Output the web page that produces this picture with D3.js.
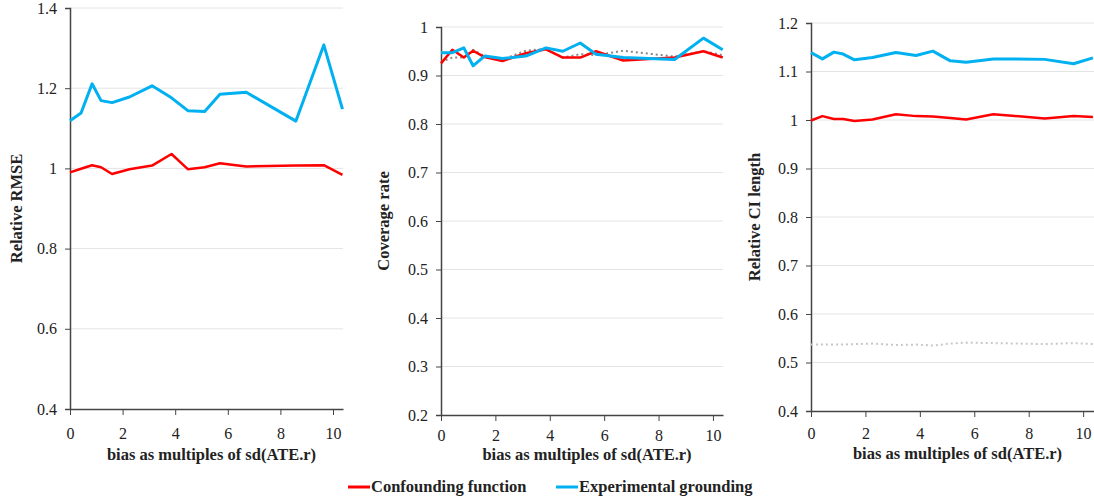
<!DOCTYPE html>
<html>
<head>
<meta charset="utf-8">
<script src="https://cdn.jsdelivr.net/npm/d3@7"></script>
<style>
  body { margin: 0; background: #fff; }
  svg text { font-family: Georgia, "Liberation Serif", "DejaVu Serif", serif; fill: #222; }
</style>
</head>
<body>
<div id="chart"></div>
<script>
var width = 1094, height = 499;

// x positions (bias as multiples of sd(ATE.r))
var bias = [0, 0.42, 0.84, 1.18, 1.6, 2.26, 3.12, 3.86, 4.48, 5.12, 5.7, 6.7, 8.59, 9.65, 10.36];

// Relative RMSE
var rmseConf = [0.99, 0.999, 1.008, 1.003, 0.986, 0.998, 1.007, 1.036, 0.998, 1.003, 1.013, 1.005, 1.007, 1.008, 0.984];
var rmseExp  = [1.119, 1.138, 1.211, 1.169, 1.164, 1.178, 1.206, 1.176, 1.144, 1.142, 1.185, 1.19, 1.118, 1.308, 1.148];

// Coverage rate
var covConf = [0.925, 0.953, 0.937, 0.951, 0.938, 0.930, 0.946, 0.954, 0.937, 0.937, 0.950, 0.931, 0.937, 0.950, 0.937];
var covExp  = [0.947, 0.947, 0.957, 0.920, 0.940, 0.935, 0.940, 0.957, 0.950, 0.967, 0.944, 0.937, 0.933, 0.977, 0.953];
var covRef  = [0.928, 0.937, 0.937, 0.953, 0.940, 0.933, 0.951, 0.955, 0.937, 0.944, 0.942, 0.951, 0.939, 0.950, 0.942];

// Relative CI length
var ciConf = [0.999, 1.008, 1.002, 1.002, 0.998, 1.001, 1.012, 1.008, 1.007, 1.004, 1.001, 1.012, 1.003, 1.008, 1.006];
var ciExp  = [1.139, 1.126, 1.140, 1.136, 1.124, 1.129, 1.139, 1.133, 1.142, 1.122, 1.119, 1.126, 1.125, 1.116, 1.128];
var ciRef  = [0.537, 0.537, 0.537, 0.537, 0.538, 0.539, 0.536, 0.537, 0.535, 0.539, 0.541, 0.540, 0.538, 0.540, 0.538];

var xTicks = [0, 2, 4, 6, 8, 10];
var xTitle = "bias as multiples of sd(ATE.r)";
var legendLabels = ["Confounding function", "Experimental grounding"];

var colRed = "#ff0000", colBlue = "#00b0f0";

var panels = [
  { title: "Relative RMSE", left: 70, right: 343, top: 8, bottom: 409, xmax: 10.38,
    yDomain: [0.4, 1.4], yTicks: [0.4, 0.6, 0.8, 1, 1.2, 1.4], titleX: 16, xTitleDy: 51, pad: 13,
    series: [{v: rmseConf, c: colRed, w: 2.5}, {v: rmseExp, c: colBlue, w: 3}] },
  { title: "Coverage rate", left: 441, right: 723, top: 27, bottom: 415, xmax: 10.37,
    yDomain: [0.2, 1], yTicks: [0.2, 0.3, 0.4, 0.5, 0.6, 0.7, 0.8, 0.9, 1], titleX: 383, xTitleDy: 45, pad: 9,
    series: [{v: covRef, c: "#888", w: 2, dash: "2,3"}, {v: covConf, c: colRed, w: 2.5}, {v: covExp, c: colBlue, w: 3}] },
  { title: "Relative CI length", left: 811, right: 1094, top: 23, bottom: 411, xmax: 10.4,
    yDomain: [0.4, 1.2], yTicks: [0.4, 0.5, 0.6, 0.7, 0.8, 0.9, 1, 1.1, 1.2], titleX: 754, xTitleDy: 48, pad: 11,
    series: [{v: ciRef, c: "#c8c8c8", w: 2, dash: "2,3"}, {v: ciConf, c: colRed, w: 2.5}, {v: ciExp, c: colBlue, w: 3}] }
];

var svg = d3.select("#chart").append("svg")
  .attr("width", width)
  .attr("height", height);

panels.forEach(function(p) {
  var x = d3.scaleLinear().domain([0, p.xmax]).range([p.left, p.right]);
  var y = d3.scaleLinear().domain(p.yDomain).range([p.bottom, p.top]);
  var g = svg.append("g");

  // gridlines
  g.selectAll("line.grid")
    .data(p.yTicks.slice(1))
    .enter().append("line")
    .attr("x1", p.left).attr("x2", p.right)
    .attr("y1", function(d) { return y(d); })
    .attr("y2", function(d) { return y(d); })
    .attr("stroke", "#e4e4e4").attr("stroke-width", 1);

  // y axis
  var ya = g.append("g")
    .attr("transform", "translate(" + p.left + ",0)")
    .call(d3.axisLeft(y).tickValues(p.yTicks).tickSize(5).tickPadding(8)
      .tickFormat(function(d) { return d3.format("")(+d.toFixed(2)); }));
  ya.select(".domain").attr("stroke", "#444").attr("stroke-width", 1.5);
  ya.selectAll(".tick line").attr("stroke", "#444");
  ya.selectAll("text").style("font-size", "16px").attr("fill", "#222");

  // x axis
  var xa = g.append("g")
    .attr("transform", "translate(0," + p.bottom + ")")
    .call(d3.axisBottom(x).tickValues(xTicks).tickSizeInner(6).tickSizeOuter(0).tickPadding(p.pad));
  xa.select(".domain").attr("stroke", "#444").attr("stroke-width", 1.5);
  xa.selectAll(".tick line").attr("stroke", "#444");
  xa.selectAll("text").style("font-size", "16px").attr("fill", "#222");

  // lines
  p.series.forEach(function(s) {
    var line = d3.line()
      .x(function(d, i) { return x(bias[i]); })
      .y(function(d) { return y(d); });
    g.append("path")
      .datum(s.v)
      .attr("d", line)
      .attr("fill", "none")
      .attr("stroke", s.c)
      .attr("stroke-width", s.w)
      .attr("stroke-linejoin", "round")
      .attr("stroke-dasharray", s.dash || null);
  });

  // titles
  g.append("text")
    .attr("transform", "translate(" + p.titleX + "," + ((p.top + p.bottom) / 2) + ") rotate(-90)")
    .attr("text-anchor", "middle")
    .attr("dy", "0.35em")
    .style("font-size", "16.5px")
    .style("font-weight", "bold")
    .text(p.title);

  g.append("text")
    .attr("x", (p.left + p.right) / 2 + 5)
    .attr("y", p.bottom + p.xTitleDy)
    .attr("text-anchor", "middle")
    .style("font-size", "16.5px")
    .style("font-weight", "bold")
    .text(xTitle);
});

// legend
var legend = svg.append("g").attr("transform", "translate(348,487)");
var legX = [0, 208];
legendLabels.forEach(function(lab, i) {
  var row = legend.append("g").attr("transform", "translate(" + legX[i] + ",0)");
  row.append("line")
    .attr("x1", 0).attr("x2", 22)
    .attr("stroke", [colRed, colBlue][i]).attr("stroke-width", 3);
  row.append("text")
    .attr("x", 23).attr("y", 5)
    .style("font-size", "16.5px")
    .style("font-weight", "bold")
    .text(lab);
});
</script>
</body>
</html>
